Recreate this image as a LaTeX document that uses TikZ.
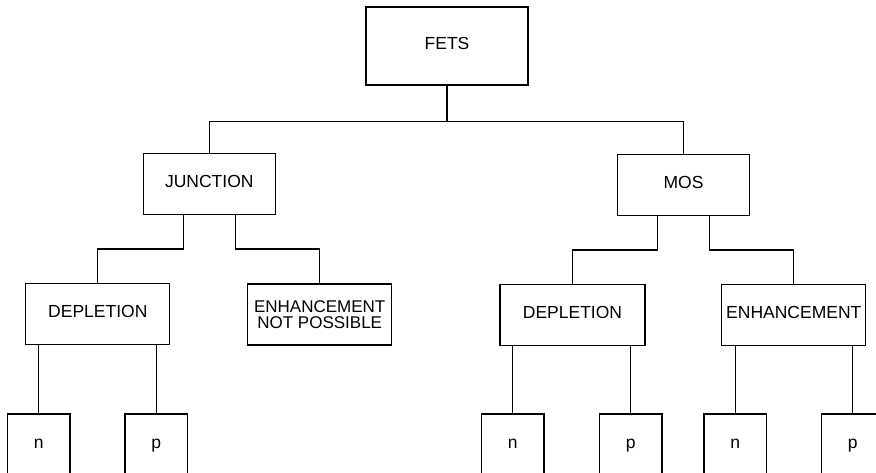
\documentclass[tikz,border=0pt]{standalone}
\usepackage{fontspec}
\setmainfont{Liberation Sans}

\tikzset{
  box/.style={draw,line width=1.3pt,inner sep=0pt,minimum height=61pt,
              font=\fontsize{17.5}{15}\selectfont},
  oneline/.style={text height=12.5pt,text depth=5pt},
  leaf/.style={box,oneline,minimum width=62.5pt},
  wire/.style={line width=1.3pt},
}

\begin{document}
\begin{tikzpicture}[x=1pt,y=-1pt]
%
  \useasboundingbox (0,0) rectangle (876,473) ;
  \clip (0,0) rectangle (876,473) ;
%
  \node (fets) [box,oneline,minimum width=162pt,minimum height=78pt] at (447,46) {FETS} ;
%
  \node (junc) [box,oneline,minimum width=132pt] at (209.3,183.8) {JUNCTION} ;
  \node (mos)  [box,oneline,minimum width=132pt] at (683.5,184.8) {MOS} ;
%
  \node (jdep) [box,oneline,minimum width=144pt] at (97.8,313.8) {DEPLETION} ;
  \node (jenh) [box,align=center,minimum width=144pt,
                font=\fontsize{17}{15.5}\selectfont] at (319.7,314.5)
        {ENHANCEMENT\\NOT POSSIBLE} ;
  \node (mdep) [box,oneline,minimum width=145pt] at (572.5,314.7) {DEPLETION} ;
  \node (menh) [box,oneline,minimum width=144pt] at (793.8,315.2) {ENHANCEMENT} ;
%
  \node (jdn) [leaf] at (38.7,444.5)  {n} ;
  \node (jdp) [leaf] at (156.3,444.5) {p} ;
  \node (mdn) [leaf] at (512.8,444.5) {n} ;
  \node (mdp) [leaf] at (630.8,444.5) {p} ;
  \node (men) [leaf] at (735.3,444.5) {n} ;
  \node (mep) [leaf] at (852.7,444.5) {p} ;
%
  \draw [wire] (fets.south) -- ++(0,36) coordinate (fork) ;
  \draw [wire] (junc.north) |- (fork) -| (mos.north) ;
%
  \draw [wire] ([xshift=-26pt]junc.south) -- ++(0,34) -| (jdep.north) ;
  \draw [wire] ([xshift=26pt]junc.south)  -- ++(0,34) -| (jenh.north) ;
  \draw [wire] ([xshift=-26pt]mos.south)  -- ++(0,34) -| (mdep.north) ;
  \draw [wire] ([xshift=26pt]mos.south)   -- ++(0,34) -| (menh.north) ;
%
  \draw [wire] (jdn.north) -- (jdn.north |- jdep.south) ;
  \draw [wire] (jdp.north) -- (jdp.north |- jdep.south) ;
  \draw [wire] (mdn.north) -- (mdn.north |- mdep.south) ;
  \draw [wire] (mdp.north) -- (mdp.north |- mdep.south) ;
  \draw [wire] (men.north) -- (men.north |- menh.south) ;
  \draw [wire] (mep.north) -- (mep.north |- menh.south) ;
%
\end{tikzpicture}
\end{document}
